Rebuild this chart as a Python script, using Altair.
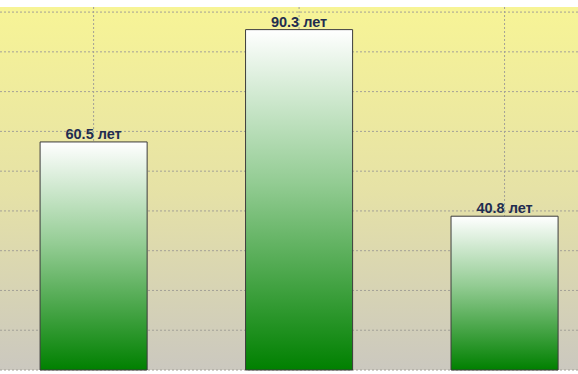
import altair as alt
import pandas as pd

categories = ["1", "2", "1.2"]
values = [60.5, 90.3, 40.8]
value_labels = ["60.5 лет", "90.3 лет", "40.8 лет"]
grid_values = [0, 10.55, 21.1, 31.65, 42.2, 52.75, 63.3, 73.85, 84.4, 94.95]

df = pd.DataFrame({"cat": categories, "val": values, "label": value_labels})
grid_df = pd.DataFrame({"g": grid_values})

W, H = 578, 363

xscale = alt.Scale(domain=categories, paddingInner=0.479, paddingOuter=0.146, align=0.668)
yscale = alt.Scale(domain=[0, 96.3], nice=False, zero=True)

bg = alt.Chart(alt.Data(values=[{}])).mark_rect(
    color=alt.Gradient(
        gradient="linear", x1=0, x2=0, y1=0, y2=1,
        stops=[alt.GradientStop(color="#f7f496", offset=0),
               alt.GradientStop(color="#e6e2a6", offset=0.5),
               alt.GradientStop(color="#cbc8bf", offset=1)]
    )
).encode(x=alt.value(0), x2=alt.value(W), y=alt.value(0), y2=alt.value(H))

hgrid = alt.Chart(grid_df).mark_rule(color="#a3a197", strokeWidth=1, strokeDash=[2, 2]).encode(
    y=alt.Y("g:Q", scale=yscale, axis=None)
)

vgrid = alt.Chart(df).mark_rule(color="#a3a197", strokeWidth=1, strokeDash=[2, 2]).encode(
    x=alt.X("cat:N", scale=xscale, sort=categories, axis=None)
)

bars = alt.Chart(df).mark_bar(
    stroke="#3c3c3c", strokeWidth=1,
    color=alt.Gradient(
        gradient="linear", x1=0, x2=0, y1=0, y2=1,
        stops=[alt.GradientStop(color="#ffffff", offset=0),
               alt.GradientStop(color="#93cc93", offset=0.45),
               alt.GradientStop(color="#008000", offset=1)]
    )
).encode(
    x=alt.X("cat:N", scale=xscale, sort=categories, title=None,
            axis=alt.Axis(domain=False, ticks=False, grid=False, labelAngle=0,
                          labelPadding=1, labelBaseline="top", labelFontSize=11,
                          labelColor="#444444", labelFont="Liberation Sans")),
    y=alt.Y("val:Q", scale=yscale, axis=None),
)

text = alt.Chart(df).mark_text(
    font="Liberation Sans", fontSize=14.5, fontWeight="bold", color="#1f2d50",
    baseline="alphabetic", dy=-3
).encode(
    x=alt.X("cat:N", scale=xscale, sort=categories),
    y=alt.Y("val:Q", scale=yscale),
    text="label:N",
)

chart = alt.layer(bg, hgrid, vgrid, bars, text).properties(
    width=W, height=H,
    autosize=alt.AutoSizeParams(type="none"),
    padding={"top": 7, "left": 0, "right": 0, "bottom": 4},
    background="white",
).configure_view(stroke=None)

chart.save("out.html", embed_options={"renderer": "svg", "actions": False})
